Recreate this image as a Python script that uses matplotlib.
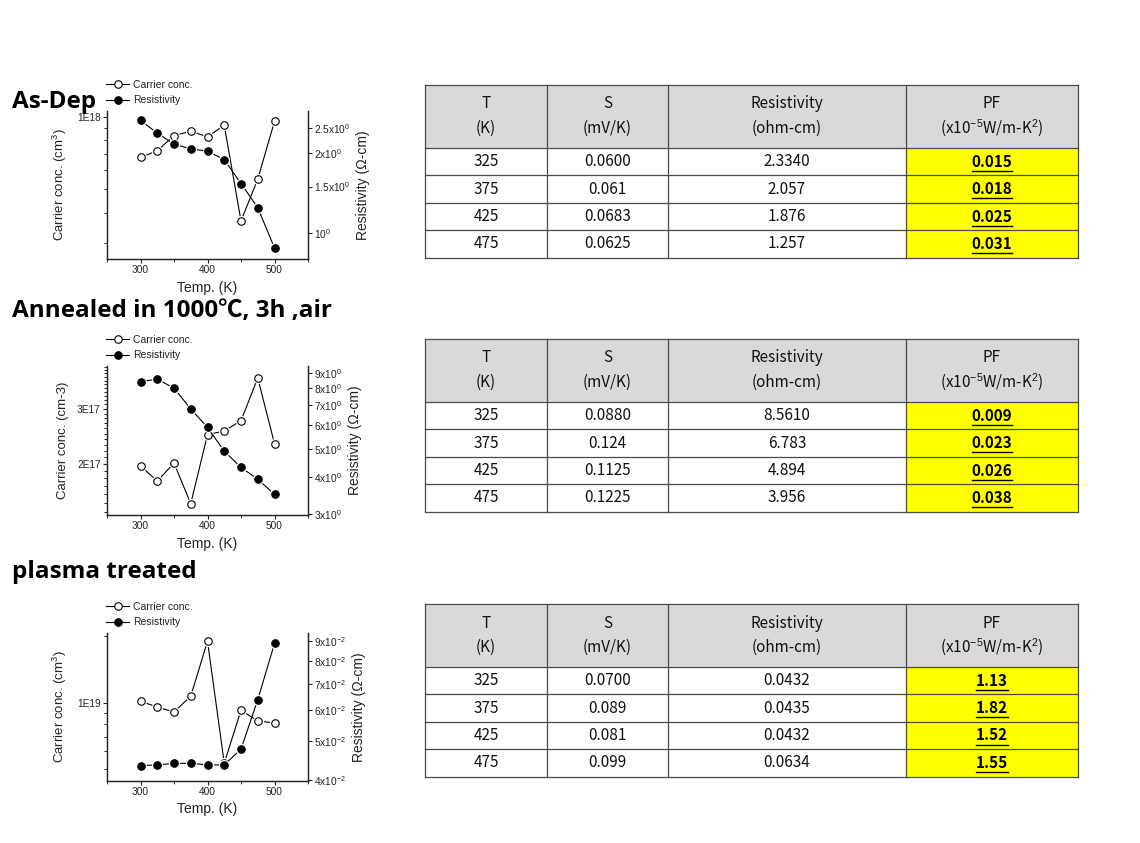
import matplotlib
matplotlib.use('Agg')
import matplotlib.pyplot as plt
from matplotlib.patches import Rectangle
from matplotlib.lines import Line2D
from matplotlib.ticker import FixedLocator, NullFormatter, NullLocator, FixedFormatter
import numpy as np

plt.rcParams['mathtext.fontset'] = 'custom'
plt.rcParams['mathtext.rm'] = 'Liberation Sans'
plt.rcParams['mathtext.it'] = 'Liberation Sans:italic'
plt.rcParams['mathtext.bf'] = 'Liberation Sans:bold'

# ---------------- data ----------------
temps = [300, 325, 350, 375, 400, 425, 450, 475, 500]

asdep_carrier = [6.80e17, 7.24e17, 8.38e17, 8.73e17, 8.28e17, 9.25e17, 3.70e17, 5.52e17, 9.60e17]
asdep_resist = [2.666, 2.385, 2.167, 2.08, 2.04, 1.896, 1.54, 1.249, 0.88]

ann_carrier = [1.97e17, 1.76e17, 2.01e17, 1.49e17, 2.48e17, 2.55e17, 2.75e17, 3.77e17, 2.32e17]
ann_resist = [8.43, 8.59, 8.01, 6.81, 5.90, 4.90, 4.32, 3.94, 3.50]

pl_carrier = [1.014e19, 9.55e18, 9.06e18, 1.07e19, 1.90e19, 5.31e18, 9.23e18, 8.25e18, 8.08e18]
pl_resist = [0.0434, 0.0436, 0.0440, 0.0440, 0.0436, 0.0436, 0.0478, 0.0638, 0.0886]

section_titles = ["As-Dep", "Annealed in 1000\u2103, 3h ,air", "plasma treated"]

carrier_labels = ["Carrier conc. (cm$^{3}$)", "Carrier conc. (cm-3)", "Carrier conc. (cm$^{3}$)"]
resist_label = "Resistivity (\u03a9-cm)"
x_label = "Temp. (K)"

left_major = [[1e18], [2e17, 3e17], [1e19]]
left_major_labels = [["1E18"], ["2E17", "3E17"], ["1E19"]]
left_lim = [(2.57e17, 1.06e18), (1.37e17, 4.12e17), (4.43e18, 2.07e19)]

right_ticks = [[1.0, 1.5, 2.0, 2.5],
               [3, 4, 5, 6, 7, 8, 9],
               [0.04, 0.05, 0.06, 0.07, 0.08, 0.09]]
right_tick_labels = [["10$^{0}$", "1.5x10$^{0}$", "2x10$^{0}$", "2.5x10$^{0}$"],
                     ["3x10$^{0}$", "4x10$^{0}$", "5x10$^{0}$", "6x10$^{0}$",
                      "7x10$^{0}$", "8x10$^{0}$", "9x10$^{0}$"],
                     ["4x10$^{-2}$", "5x10$^{-2}$", "6x10$^{-2}$", "7x10$^{-2}$",
                      "8x10$^{-2}$", "9x10$^{-2}$"]]
right_lim = [(0.80, 2.89), (2.98, 9.52), (0.0398, 0.0942)]

table_header1 = ["T", "S", "Resistivity", "PF"]
table_header2 = ["(K)", "(mV/K)", "(ohm-cm)", "(x10$^{-5}$W/m-K$^{2}$)"]
table_T = ["325", "375", "425", "475"]
asdep_S = ["0.0600", "0.061", "0.0683", "0.0625"]
asdep_R = ["2.3340", "2.057", "1.876", "1.257"]
asdep_PF = ["0.015", "0.018", "0.025", "0.031"]
ann_S = ["0.0880", "0.124", "0.1125", "0.1225"]
ann_R = ["8.5610", "6.783", "4.894", "3.956"]
ann_PF = ["0.009", "0.023", "0.026", "0.038"]
pl_S = ["0.0700", "0.089", "0.081", "0.099"]
pl_R = ["0.0432", "0.0435", "0.0432", "0.0634"]
pl_PF = ["1.13", "1.82", "1.52", "1.55"]

# ---------------- figure ----------------
W, H = 1140, 843
fig = plt.figure(figsize=(W / 100, H / 100), dpi=100)
fig.patch.set_facecolor('white')

PFONT = ['Liberation Sans', 'DejaVu Sans']
TFONT = ['Noto Sans CJK KR', 'DejaVu Sans']
HFONT = ['Open Sans', 'Noto Sans CJK KR', 'DejaVu Sans']
AXC = '#222222'
MS = 5.4

# axes boxes in pixels: (left, top, right, bottom)
boxes = [(107, 111, 308, 259), (107, 366, 308, 515), (107, 633, 308, 780.5)]
carriers = [asdep_carrier, ann_carrier, pl_carrier]
resists = [asdep_resist, ann_resist, pl_resist]


def px_rect(b):
    l, t, r, bt = b
    return [l / W, 1 - bt / H, (r - l) / W, (bt - t) / H]


def series(a, x, y, fill):
    a.plot(x, y, '-', color='black', lw=0.8, zorder=2)
    a.plot(x, y, 'o', ls='none', ms=MS + 2.6, mfc='white', mec='none', zorder=2.5)
    a.plot(x, y, 'o', ls='none', ms=MS, mfc=fill, mec='black', mew=0.8, zorder=3)


for i in range(3):
    ax = fig.add_axes(px_rect(boxes[i]))
    axr = ax.twinx()
    series(ax, temps, carriers[i], 'white')
    series(axr, temps, resists[i], 'black')
    h1 = Line2D([], [], color='black', lw=0.8, marker='o', ms=MS, mfc='white',
                mec='black', mew=0.8, label='Carrier conc.')
    h2 = Line2D([], [], color='black', lw=0.8, marker='o', ms=MS, mfc='black',
                mec='black', mew=0.8, label='Resistivity')
    ax.set_yscale('log')
    axr.set_yscale('log')
    ax.set_xlim(250, 550)
    ax.set_ylim(*left_lim[i])
    axr.set_ylim(*right_lim[i])

    ax.xaxis.set_major_locator(FixedLocator([300, 400, 500]))
    ax.xaxis.set_minor_locator(FixedLocator([250, 350, 450, 550]))

    ax.yaxis.set_major_locator(FixedLocator(left_major[i]))
    ax.yaxis.set_major_formatter(FixedFormatter(left_major_labels[i]))
    lo, hi = left_lim[i]
    if i == 1:
        mins = [v * 1e16 for v in range(11, 42) if v not in (20, 30)]
    else:
        mins = []
        dec = 10 ** np.floor(np.log10(lo))
        while dec < hi * 10:
            for s in range(2, 10):
                mins.append(s * dec)
            dec *= 10
    mins = [m for m in mins if lo <= m <= hi]
    ax.yaxis.set_minor_locator(FixedLocator(mins))
    ax.yaxis.set_minor_formatter(NullFormatter())

    axr.yaxis.set_major_locator(FixedLocator(right_ticks[i]))
    axr.yaxis.set_major_formatter(FixedFormatter(right_tick_labels[i]))
    axr.yaxis.set_minor_locator(NullLocator())
    axr.yaxis.set_minor_formatter(NullFormatter())

    for a in (ax, axr):
        a.spines['top'].set_visible(False)
        for sp in a.spines.values():
            sp.set_linewidth(0.9)
            sp.set_color(AXC)
        a.tick_params(which='major', direction='out', length=3, width=0.8,
                      labelsize=7.3, colors=AXC, pad=1.5)
        a.tick_params(which='minor', direction='out', length=2, width=0.7, colors=AXC)
        for lab in a.get_xticklabels() + a.get_yticklabels():
            lab.set_family(PFONT)

    ax.set_xlabel(x_label, fontsize=10, family=PFONT, color=AXC, labelpad=4)
    ax.set_ylabel(carrier_labels[i], fontsize=9.5, family=PFONT, color=AXC, labelpad=6)
    axr.set_ylabel(resist_label, fontsize=10, family=PFONT, color=AXC, labelpad=4)

    leg = ax.legend(handles=[h1, h2], loc='lower left', bbox_to_anchor=(-0.033, 1.0),
                    frameon=False, prop={'family': PFONT, 'size': 7.5},
                    handlelength=2.2, handletextpad=0.4, labelspacing=0.55,
                    borderaxespad=0.55, borderpad=0.0)
    for t in leg.get_texts():
        t.set_color(AXC)

# ---------------- overlay for titles and tables ----------------
ov = fig.add_axes([0, 0, 1, 1])
ov.set_xlim(0, W)
ov.set_ylim(H, 0)
ov.axis('off')

title_base = [108, 317, 578]
for t, y in zip(section_titles, title_base):
    ov.text(12, y, t, fontsize=17.5, fontweight='bold', family=HFONT,
            ha='left', va='baseline', color='black')

col_edges = [425, 547, 668, 906, 1078]
header_h = 63
row_h = 27.4
table_tops = [85, 339, 604]
tables = [(asdep_S, asdep_R, asdep_PF), (ann_S, ann_R, ann_PF), (pl_S, pl_R, pl_PF)]
LC = '#4a4a4a'
pf_texts = []

for top, (S, R, PF) in zip(table_tops, tables):
    nrows = len(table_T)
    bottom = top + header_h + nrows * row_h
    ov.add_patch(Rectangle((col_edges[0], top), col_edges[-1] - col_edges[0], header_h,
                           fc='#d9d9d9', ec='none', zorder=1))
    ov.add_patch(Rectangle((col_edges[3], top + header_h), col_edges[4] - col_edges[3],
                           nrows * row_h, fc='#ffff00', ec='none', zorder=1))
    for x in col_edges:
        ov.plot([x, x], [top, bottom], color=LC, lw=0.9, zorder=2)
    for k in range(nrows + 1):
        y = top + header_h + k * row_h
        ov.plot([col_edges[0], col_edges[-1]], [y, y], color=LC, lw=0.9, zorder=2)
    ov.plot([col_edges[0], col_edges[-1]], [top, top], color=LC, lw=0.9, zorder=2)
    for c in range(4):
        cx = (col_edges[c] + col_edges[c + 1]) / 2
        ov.text(cx, top + 19, table_header1[c], fontsize=11, family=TFONT,
                ha='center', va='center', color='#111111', zorder=3)
        ov.text(cx, top + 43, table_header2[c], fontsize=11, family=TFONT,
                ha='center', va='center', color='#111111', zorder=3)
    for k in range(nrows):
        cy = top + header_h + (k + 0.5) * row_h
        vals = [table_T[k], S[k], R[k]]
        for c in range(3):
            cx = (col_edges[c] + col_edges[c + 1]) / 2
            ov.text(cx, cy, vals[c], fontsize=11, family=TFONT, ha='center',
                    va='center', color='#111111', zorder=3)
        cx = (col_edges[3] + col_edges[4]) / 2
        t = ov.text(cx, cy, PF[k], fontsize=11, family=TFONT, fontweight='bold',
                    ha='center', va='center', color='black', zorder=3)
        pf_texts.append(t)

# underline PF values
fig.canvas.draw()
renderer = fig.canvas.get_renderer()
for t in pf_texts:
    bb = t.get_window_extent(renderer=renderer)
    yline = H - bb.y0 + 1.0
    ov.plot([bb.x0, bb.x1], [yline, yline], color='black', lw=1.0, zorder=3)

fig.savefig('out.png', dpi=100, facecolor='white')
